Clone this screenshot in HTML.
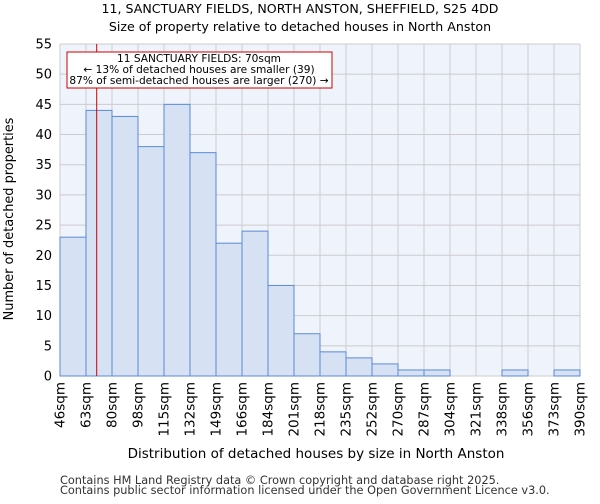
<!DOCTYPE html>
<html><head><meta charset="utf-8"><style>
body{margin:0;background:#fff;font-family:"DejaVu Sans","Liberation Sans",sans-serif;}
</style></head><body>
<svg id="chart" width="600" height="500" xmlns="http://www.w3.org/2000/svg" font-family="DejaVu Sans, Liberation Sans, sans-serif">
<text x="300" y="13" text-anchor="middle" font-size="12.6">11, SANCTUARY FIELDS, NORTH ANSTON, SHEFFIELD, S25 4DD</text>
<text x="300" y="31" text-anchor="middle" font-size="12.6">Size of property relative to detached houses in North Anston</text>
<rect x="60" y="44" width="520" height="332" fill="#eff3fb"/>
<g id="grid"></g>
<g id="bars"></g>
<g id="axes"></g>
<text x="316" y="458" text-anchor="middle" font-size="13.5">Distribution of detached houses by size in North Anston</text>
<text transform="translate(13,219) rotate(-90)" text-anchor="middle" font-size="12.9">Number of detached properties</text>
<text x="60" y="484" font-size="11.3" fill="#333">Contains HM Land Registry data © Crown copyright and database right 2025.</text>
<text x="60" y="494" font-size="11.3" fill="#333">Contains public sector information licensed under the Open Government Licence v3.0.</text>
</svg>
<script>
const categories=["46sqm","63sqm","80sqm","98sqm","115sqm","132sqm","149sqm","166sqm","184sqm","201sqm","218sqm","235sqm","252sqm","270sqm","287sqm","304sqm","321sqm","338sqm","356sqm","373sqm","390sqm"];
const counts=[23,44,43,38,45,37,22,24,15,7,4,3,2,1,1,0,0,1,0,1];
const yTicks=[0,5,10,15,20,25,30,35,40,45,50,55];
const binEdges=[46,63,80,98,115,132,149,166,184,201,218,235,252,270,287,304,321,338,356,373,390];
const subjectSize=70;
const annotationLines=["11 SANCTUARY FIELDS: 70sqm","← 13% of detached houses are smaller (39)","87% of semi-detached houses are larger (270) →"];
const NS="http://www.w3.org/2000/svg";
const L=60,R=580,T=44,B=376,yMax=55;
const nb=counts.length,bw=(R-L)/nb;
const y=v=>B-(v/yMax)*(B-T);
const xi=i=>L+i*bw;
function xv(v){for(let i=0;i<binEdges.length-1;i++){if(v<=binEdges[i+1])return xi(i)+(v-binEdges[i])/(binEdges[i+1]-binEdges[i])*bw;}return R;}
function mk(t,a,p){const e=document.createElementNS(NS,t);for(const k in a)e.setAttribute(k,a[k]);p.appendChild(e);return e;}
const g=document.getElementById('grid'),b=document.getElementById('bars'),ax=document.getElementById('axes'),svg=document.getElementById('chart');
yTicks.forEach(t=>{const l=mk('line',{x1:L,x2:R,y1:y(t),y2:y(t),stroke:'#cccccc'},g);

const tx=mk('text',{x:L-8,y:y(t)+4.5,'text-anchor':'end','font-size':13},ax);tx.textContent=t;
});
categories.forEach((c,i)=>{const l=mk('line',{x1:xi(i),x2:xi(i),y1:T,y2:B,stroke:'#cccccc'},g);

const tx=mk('text',{transform:`translate(${xi(i)+4.5},${B+6}) rotate(-90)`,'text-anchor':'end','font-size':13.5},ax);tx.textContent=c;
});
counts.forEach((v,i)=>{if(v<=0)return;const r=mk('rect',{x:xi(i),y:y(v),width:bw,height:B-y(v),fill:'#d6e1f3',stroke:'#5a8ad6','stroke-width':1},b);
});
const ln=mk('line',{x1:xv(subjectSize),x2:xv(subjectSize),y1:T,y2:B,stroke:'#cc0000','stroke-width':1},svg);

const box=mk('rect',{x:67,y:52,width:265,height:36,fill:'#fff',stroke:'#cc0000','stroke-width':1},svg);

annotationLines.forEach((s,i)=>{const t=mk('text',{x:199,y:62+i*11,'text-anchor':'middle','font-size':10.6},svg);t.textContent=s;
});
</script>
</body></html>
